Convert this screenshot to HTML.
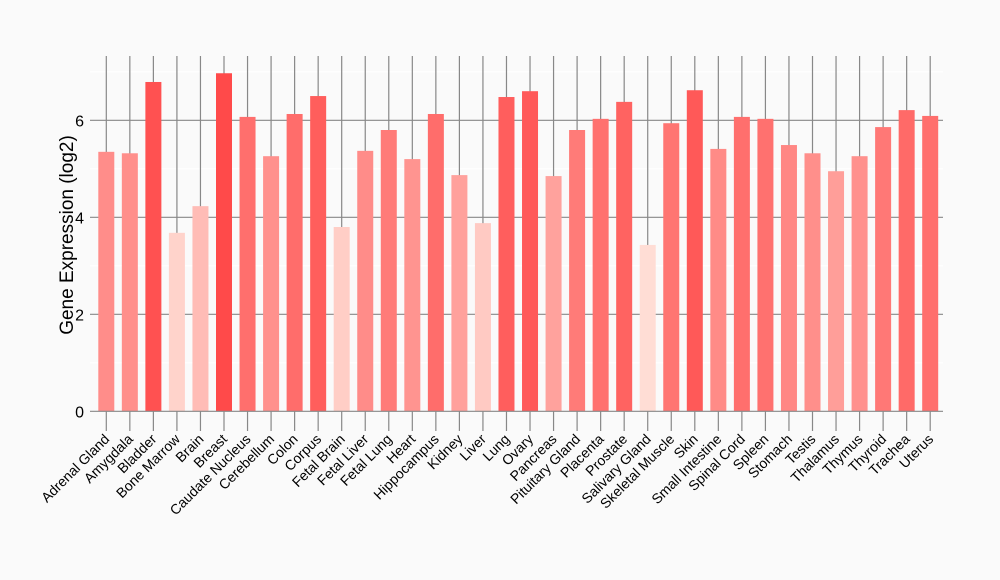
<!DOCTYPE html>
<html><head><meta charset="utf-8"><style>
html,body{margin:0;padding:0;background:#fafafa;}
svg{display:block;font-family:"Liberation Sans",Arial,sans-serif;}
</style></head><body>
<svg id="c" width="1000" height="580" xmlns="http://www.w3.org/2000/svg">
<rect width="1000" height="580" fill="#fafafa"/>
</svg>
<script>
const names=["Adrenal Gland","Amygdala","Bladder","Bone Marrow","Brain","Breast","Caudate Nucleus","Cerebellum","Colon","Corpus","Fetal Brain","Fetal Liver","Fetal Lung","Heart","Hippocampus","Kidney","Liver","Lung","Ovary","Pancreas","Pituitary Gland","Placenta","Prostate","Salivary Gland","Skeletal Muscle","Skin","Small Intestine","Spinal Cord","Spleen","Stomach","Testis","Thalamus","Thymus","Thyroid","Trachea","Uterus"];
const vals=[5.35,5.32,6.79,3.68,4.23,6.97,6.07,5.26,6.13,6.5,3.8,5.37,5.8,5.2,6.13,4.87,3.88,6.48,6.6,4.85,5.8,6.03,6.38,3.43,5.94,6.62,5.41,6.07,6.03,5.49,5.32,4.95,5.26,5.86,6.21,6.09];
const z=411.3,u=48.5,x0=106.3,dx=23.54,L=90,R=943,T=56;
let s='';
for(const v of [1,3,5,7]){const y=z-v*u;s+=`<line x1="${L}" x2="${R}" y1="${y}" y2="${y}" stroke="#fff" stroke-width="1"/>`;}
for(const v of [2,4,6]){const y=z-v*u;s+=`<line x1="${L}" x2="${R}" y1="${y}" y2="${y}" stroke="#888" stroke-width="1.2"/>`;}
for(let i=0;i<36;i++){const x=x0+i*dx;s+=`<line x1="${x}" x2="${x}" y1="${T}" y2="${431}" stroke="#888" stroke-width="1.2"/>`;}
for(let i=0;i<36;i++){const x=x0+i*dx,v=vals[i];const t=(v-3.43)/(6.97-3.43);
const g=Math.round(221-147*t),b=Math.round(213-139*t);
s+=`<rect x="${x-8}" y="${z-v*u}" width="16" height="${v*u}" fill="rgb(255,${g},${b})"/>`;
s+=`<text transform="translate(${x+4},${440}) rotate(-45)" text-anchor="end" font-size="14" fill="#000">${names[i]}</text>`;}
s+=`<line x1="${L}" x2="${R}" y1="${z}" y2="${z}" stroke="#888" stroke-width="1.2"/>`;
for(const v of [0,2,4,6]){const y=z-v*u;s+=`<text x="84" y="${y+6}" text-anchor="end" font-size="16" fill="#000">${v}</text>`;}
s+=`<text transform="translate(73,235) rotate(-90)" text-anchor="middle" font-size="19" fill="#000">Gene Expression (log2)</text>`;
document.getElementById('c').insertAdjacentHTML('beforeend',s);
</script>
</body></html>
